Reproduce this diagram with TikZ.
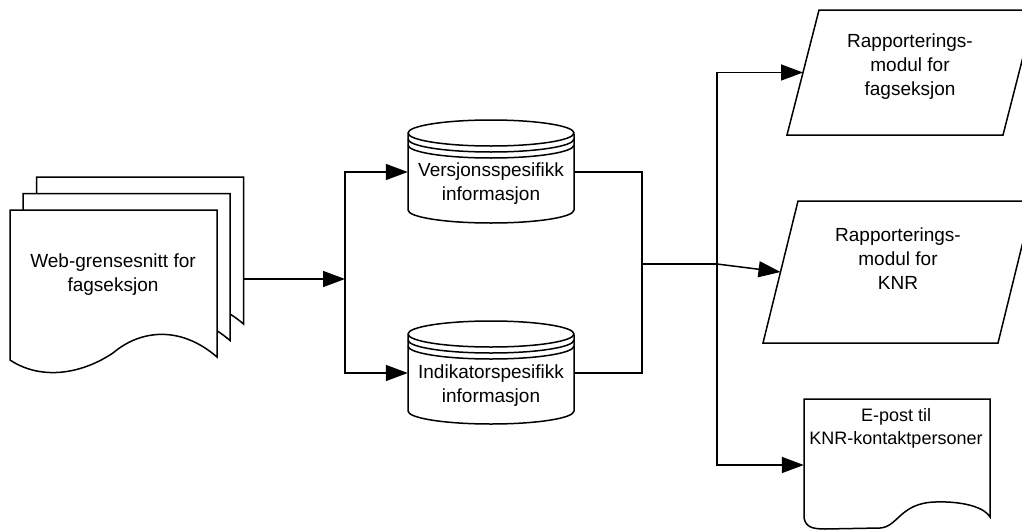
\documentclass[tikz,border=0pt]{standalone}
\usepackage{fontspec}
\setmainfont{Liberation Sans}
\usetikzlibrary{arrows.meta}
\newcommand\docsheet[2]{%
  \draw[shapeline,shift={(#1,#2)}] (10,210) -- (217,210) -- (217,357)
    .. controls (180,325) and (140,330) .. (113,353)
    .. controls (80,375) and (40,380) .. (10,360) -- cycle;}
\newcommand\dbcyl[2]{%
  \begin{scope}[shift={(#1,#2)}]
    \draw[shapeline] (-83,-38) -- (-83,38) arc[start angle=180,end angle=0,x radius=83,y radius=13] -- (83,-38);
    \draw[shapeline] (0,-39) ellipse [x radius=83, y radius=13];
    \draw[line width=1.5pt] (-83,-33) arc[start angle=180,end angle=0,x radius=83,y radius=13];
    \draw[line width=1.5pt] (-83,-27) arc[start angle=180,end angle=0,x radius=83,y radius=13];
  \end{scope}}
\begin{document}
\begin{tikzpicture}[x=1pt,y=-1pt,
  conn/.style={line width=1.5pt},
  arr/.style={conn,-{Triangle[length=22pt,width=16pt]}},
  shapeline/.style={draw=black,line width=1.5pt,fill=white},
  lbl/.style={font=\fontsize{19}{24}\selectfont, align=center, inner sep=0pt},
  hidden/.style={draw=none, fill=none, inner sep=0pt, rectangle}
]
\useasboundingbox (0,0) rectangle (1022,530);
\clip (0,0) rectangle (1022,530);

% stack of documents
\docsheet{26.5}{-33}
\docsheet{13}{-16.5}
\docsheet{0}{0}
\node[hidden, minimum width=233pt, minimum height=150pt] (stack) at (126.5,279) {};
\node[lbl] (webtext) at (113,275) {Web-grensesnitt for\\fagseksjon};

% databases
\dbcyl{491}{172}
\dbcyl{491}{373}
\node[hidden, minimum width=166pt, minimum height=100pt] (cyl1) at (491,172) {};
\node[lbl] (cyl1text) at (491,184) {Versjonsspesifikk\\informasjon};
\node[hidden, minimum width=166pt, minimum height=100pt] (cyl2) at (491,373) {};
\node[lbl] (cyl2text) at (491,386) {Indikatorspesifikk\\informasjon};

% parallelograms
\draw[shapeline] (819,10) -- (1035,10) -- (1003,135) -- (787,135) -- cycle;
\coordinate (par1) at (803,72.5);
\node[lbl] (par1text) at (910,67) {Rapporterings-\\modul for\\fagseksjon};
\draw[shapeline] (798,201) -- (1033,201) -- (998,343) -- (763,343) -- cycle;
\coordinate (par2) at (780.5,272);
\node[lbl] (par2text) at (898,259) {Rapporterings-\\modul for\\KNR};

% e-mail document
\draw[shapeline] (804,399) -- (990,399) -- (990,517)
  .. controls (985,508) and (965,501) .. (935,502)
  .. controls (900,503) and (898,527) .. (880,528)
  -- (825,529) .. controls (812,529) and (806,527) .. (804,518) -- cycle;
\node[hidden, minimum width=186pt, minimum height=132pt] (doc2) at (897,465) {};
\node[lbl, font=\fontsize{18}{23}\selectfont] (doc2text) at (896,428.5) {E-post til\\KNR-kontaktpersoner};

% junctions
\coordinate (j1) at (345,279);
\coordinate (j2) at (642,264);
\coordinate (j3) at (717,264);

% connectors
\draw[arr] (stack.east) -- (j1);
\draw[arr] (j1) |- (cyl1.west);
\draw[arr] (j1) |- (cyl2.west);
\draw[conn] (cyl1.east) -| (j2);
\draw[conn] (cyl2.east) -| (j2);
\draw[conn] (j2) -- (j3);
\draw[arr] (j3) -- (par2);
\draw[arr] (j3) |- (par1);
\draw[arr] (j3) |- (doc2.west);
\end{tikzpicture}
\end{document}
